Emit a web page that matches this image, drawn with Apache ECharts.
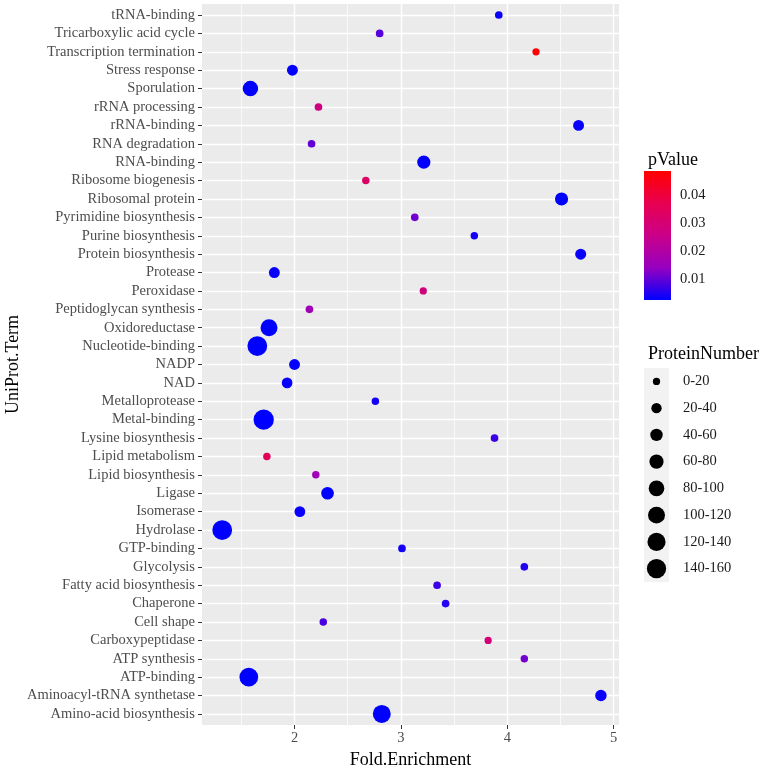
<!DOCTYPE html>
<html>
<head>
<meta charset="utf-8">
<script src="https://cdn.jsdelivr.net/npm/echarts@6/dist/echarts.min.js"></script>
<style>
html, body { margin: 0; padding: 0; background: #ffffff; }
#main { width: 760px; height: 768px; }
</style>
</head>
<body>
<div id="main"></div>
<script>
// terms listed top to bottom as in the figure
var terms = ['tRNA-binding', 'Tricarboxylic acid cycle', 'Transcription termination', 'Stress response',
    'Sporulation', 'rRNA processing', 'rRNA-binding', 'RNA degradation', 'RNA-binding', 'Ribosome biogenesis',
    'Ribosomal protein', 'Pyrimidine biosynthesis', 'Purine biosynthesis', 'Protein biosynthesis', 'Protease',
    'Peroxidase', 'Peptidoglycan synthesis', 'Oxidoreductase', 'Nucleotide-binding', 'NADP', 'NAD',
    'Metalloprotease', 'Metal-binding', 'Lysine biosynthesis', 'Lipid metabolism', 'Lipid biosynthesis',
    'Ligase', 'Isomerase', 'Hydrolase', 'GTP-binding', 'Glycolysis', 'Fatty acid biosynthesis', 'Chaperone',
    'Cell shape', 'Carboxypeptidase', 'ATP synthesis', 'ATP-binding', 'Aminoacyl-tRNA synthetase',
    'Amino-acid biosynthesis'];
var foldEnrichment = [3.92, 2.80, 4.27, 1.98, 1.585, 2.225, 4.67, 2.16, 3.215, 2.67,
    4.51, 3.13, 3.69, 4.69, 1.81, 3.21, 2.14, 1.76, 1.65, 2.00, 1.93,
    2.76, 1.71, 3.88, 1.74, 2.20, 2.31, 2.05, 1.32, 3.01, 4.16, 3.34, 3.42,
    2.27, 3.82, 4.16, 1.57, 4.88, 2.82];
var pValues = [0.003, 0.009, 0.0487, 0.0025, 0.0024, 0.027, 0.003, 0.010, 0.0025, 0.033,
    0.0024, 0.011, 0.004, 0.003, 0.003, 0.028, 0.016, 0.0024, 0.0024, 0.0026, 0.0026,
    0.004, 0.0024, 0.007, 0.035, 0.016, 0.0025, 0.003, 0.0024, 0.004, 0.005, 0.007, 0.005,
    0.008, 0.029, 0.011, 0.0024, 0.003, 0.0024];
var proteinNumbers = [12, 12, 10, 35, 88, 12, 35, 12, 58, 11,
    58, 12, 11, 36, 35, 10, 12, 110, 160, 35, 33,
    11, 170, 12, 11, 11, 52, 34, 160, 12, 12, 12, 12,
    11, 10, 11, 139, 40, 127];

var xTicks = [2, 3, 4, 5];
var xMinorTicks = [1.5, 2.5, 3.5, 4.5];
var pTicks = [0.01, 0.02, 0.03, 0.04];
var pRange = [0.0024, 0.0487];
var pColors = ['#0000FF', '#9700C0', '#CA0089', '#E80050', '#FF0000'];
var sizeBins = ['0-20', '20-40', '40-60', '60-80', '80-100', '100-120', '120-140', '140-160'];
var sizeBinMids = [10, 30, 50, 70, 90, 110, 130, 150];

var serif = 'Liberation Serif';

function dotSize(n) {
    return 3.1 + 1.32 * Math.sqrt(n);
}

var rowIdx = terms.map(function (t, i) { return i; });
var points = terms.map(function (t, i) {
    return [foldEnrichment[i], i, pValues[i], proteinNumbers[i]];
});

var barStops = pColors.map(function (c, i) {
    return { offset: i / (pColors.length - 1), color: c };
});

var dom = document.getElementById('main');
var myChart = echarts.init(dom);
var option = {
    backgroundColor: '#ffffff',
    animation: false,
    title: [{
        text: 'pValue', left: 643, top: 146,
        textStyle: { fontFamily: serif, fontSize: 18, fontWeight: 'normal', color: '#000' }
    }, {
        text: 'ProteinNumber', left: 643, top: 340,
        textStyle: { fontFamily: serif, fontSize: 18, fontWeight: 'normal', color: '#000' }
    }],
    grid: [
        { left: 202, top: 4, width: 417, height: 721, show: true, backgroundColor: '#EBEBEB', borderWidth: 0, outerBoundsMode: 'none' },
        { left: 644, top: 171, width: 27, height: 129, outerBoundsMode: 'none' },
        { left: 644, top: 368, width: 25, height: 214, show: true, backgroundColor: '#F2F2F2', borderWidth: 0, outerBoundsMode: 'none' }
    ],
    visualMap: {
        type: 'continuous',
        show: false,
        seriesIndex: 0,
        dimension: 2,
        min: pRange[0],
        max: pRange[1],
        inRange: { color: pColors }
    },
    xAxis: [{
        gridIndex: 0, type: 'value', min: 1.13, max: 5.05,
        name: 'Fold.Enrichment', nameLocation: 'middle', nameGap: 24,
        nameTextStyle: { fontFamily: serif, fontSize: 18, color: '#000' },
        axisLine: { show: false, onZero: false },
        axisTick: { show: true, length: 4, customValues: xTicks, lineStyle: { color: '#333333' } },
        axisLabel: { customValues: xTicks, margin: 6, fontFamily: serif, fontSize: 14.5, color: '#4D4D4D' },
        splitLine: { show: true, lineStyle: { color: '#ffffff', width: 1.4 } }
    }, {
        gridIndex: 0, type: 'value', min: 1.13, max: 5.05, position: 'top',
        axisLine: { show: false, onZero: false },
        axisTick: { show: false, customValues: xMinorTicks },
        axisLabel: { show: false, customValues: xMinorTicks },
        splitLine: { show: true, lineStyle: { color: '#ffffff', width: 0.7 } }
    }, {
        gridIndex: 1, type: 'category', data: ['p'], show: false
    }, {
        gridIndex: 2, type: 'value', min: 0, max: 1, show: false
    }],
    yAxis: [{
        gridIndex: 0, type: 'value', inverse: true, min: -0.6, max: terms.length - 0.4,
        name: 'UniProt.Term', nameLocation: 'middle', nameGap: 180, nameRotate: 90, nameMoveOverlap: false,
        nameTextStyle: { fontFamily: serif, fontSize: 18, color: '#000' },
        axisLine: { show: false, onZero: false },
        axisTick: { show: true, length: 4, customValues: rowIdx, lineStyle: { color: '#333333' } },
        axisLabel: {
            customValues: rowIdx, margin: 7, fontFamily: serif, fontSize: 14.5, color: '#4D4D4D',
            formatter: function (v) { return terms[v]; }
        },
        splitLine: { show: true, lineStyle: { color: '#ffffff', width: 1.4 } }
    }, {
        gridIndex: 1, type: 'value', min: pRange[0], max: pRange[1], position: 'right',
        axisLine: { show: false, onZero: false },
        axisTick: { show: true, inside: true, length: 5, customValues: pTicks, lineStyle: { color: '#ffffff', width: 1 } },
        axisLabel: {
            customValues: pTicks, margin: 9, fontFamily: serif, fontSize: 14.5, color: '#1A1A1A',
            formatter: function (v) { return v.toFixed(2); }
        },
        splitLine: { show: false }
    }, {
        gridIndex: 2, type: 'category', data: sizeBins, inverse: true, position: 'right',
        axisLine: { show: false, onZero: false },
        axisTick: { show: false },
        axisLabel: { margin: 14, fontFamily: serif, fontSize: 14.5, color: '#1A1A1A' },
        splitLine: { show: false }
    }, {
        gridIndex: 1, type: 'value', min: pRange[0], max: pRange[1], position: 'left',
        axisLine: { show: false, onZero: false },
        axisTick: { show: true, inside: true, length: 5, customValues: pTicks, lineStyle: { color: '#ffffff', width: 1 } },
        axisLabel: { show: false, customValues: pTicks },
        splitLine: { show: false }
    }],
    series: [{
        type: 'scatter',
        xAxisIndex: 0, yAxisIndex: 0,
        data: points,
        symbolSize: function (v) { return dotSize(v[3]); },
        itemStyle: { opacity: 1 },
        z: 5
    }, {
        // colour bar: invisible base up to pRange[0], gradient on top
        type: 'bar', xAxisIndex: 2, yAxisIndex: 1, stack: 'bar', barWidth: '100%',
        data: [pRange[0]],
        itemStyle: { color: 'rgba(0,0,0,0)' },
        silent: true
    }, {
        type: 'bar', xAxisIndex: 2, yAxisIndex: 1, stack: 'bar', barWidth: '100%',
        data: [pRange[1] - pRange[0]],
        itemStyle: {
            color: { type: 'linear', x: 0, y: 1, x2: 0, y2: 0, colorStops: barStops }
        },
        silent: true, z: 1
    }, {
        type: 'scatter', xAxisIndex: 3, yAxisIndex: 2,
        data: sizeBins.map(function (b, i) { return [0.5, i, sizeBinMids[i]]; }),
        symbolSize: function (v) { return dotSize(v[2]); },
        itemStyle: { color: '#000000', opacity: 1 }
    }]
};
if (option && typeof option === 'object') {
    myChart.setOption(option, true);
}
</script>
</body>
</html>
